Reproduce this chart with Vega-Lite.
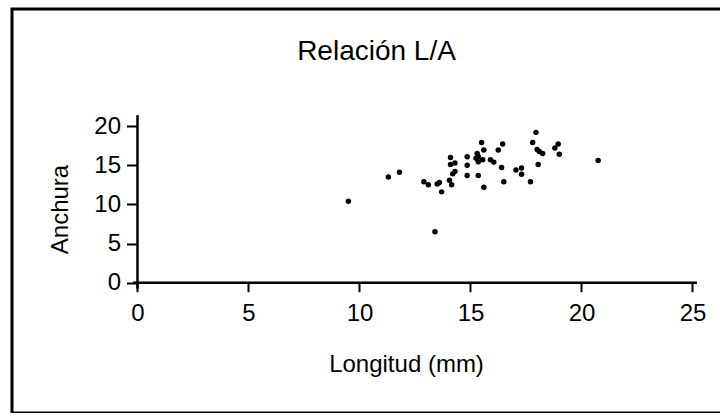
{
  "$schema": "https://vega.github.io/schema/vega-lite/v6.json",
  "width": 713,
  "height": 404,
  "autosize": {"type": "none"},
  "padding": {"left": 12, "top": 9, "right": 0, "bottom": 0},
  "background": "white",
  "config": {
    "view": {"stroke": "black", "strokeWidth": 3, "fill": null},
    "font": "Liberation Sans"
  },
  "title": {
    "text": "Relación L/A",
    "font": "Liberation Sans",
    "fontSize": 28,
    "fontWeight": "normal",
    "color": "black",
    "offset": -79,
    "baseline": "alphabetic",
    "dx": 8
  },
  "datasets": {
    "pts": [
      {"longitud": 9.5, "anchura": 10.4},
      {"longitud": 11.3, "anchura": 13.5},
      {"longitud": 11.8, "anchura": 14.1},
      {"longitud": 12.9, "anchura": 12.9},
      {"longitud": 13.1, "anchura": 12.5},
      {"longitud": 13.5, "anchura": 12.6},
      {"longitud": 13.6, "anchura": 12.8},
      {"longitud": 13.7, "anchura": 11.6},
      {"longitud": 13.4, "anchura": 6.5},
      {"longitud": 14.1, "anchura": 16.0},
      {"longitud": 14.1, "anchura": 15.1},
      {"longitud": 14.3, "anchura": 15.3},
      {"longitud": 14.3, "anchura": 14.2},
      {"longitud": 14.2, "anchura": 13.9},
      {"longitud": 14.05, "anchura": 13.1},
      {"longitud": 14.15, "anchura": 12.5},
      {"longitud": 14.85, "anchura": 16.1},
      {"longitud": 14.85, "anchura": 15.0},
      {"longitud": 14.85, "anchura": 13.7},
      {"longitud": 15.25, "anchura": 15.9},
      {"longitud": 15.35, "anchura": 13.7},
      {"longitud": 15.5, "anchura": 17.9},
      {"longitud": 15.6, "anchura": 16.95},
      {"longitud": 15.3, "anchura": 16.5},
      {"longitud": 15.35, "anchura": 16.1},
      {"longitud": 15.35, "anchura": 15.45},
      {"longitud": 15.55, "anchura": 15.7},
      {"longitud": 15.9, "anchura": 15.7},
      {"longitud": 16.05, "anchura": 15.4},
      {"longitud": 16.45, "anchura": 17.7},
      {"longitud": 16.25, "anchura": 16.95},
      {"longitud": 16.4, "anchura": 14.7},
      {"longitud": 15.6, "anchura": 12.2},
      {"longitud": 16.5, "anchura": 12.9},
      {"longitud": 17.05, "anchura": 14.4},
      {"longitud": 17.3, "anchura": 14.65},
      {"longitud": 17.3, "anchura": 13.85},
      {"longitud": 17.7, "anchura": 12.9},
      {"longitud": 17.95, "anchura": 19.2},
      {"longitud": 17.8, "anchura": 17.9},
      {"longitud": 18.0, "anchura": 17.0},
      {"longitud": 18.25, "anchura": 16.5},
      {"longitud": 18.1, "anchura": 16.75},
      {"longitud": 18.05, "anchura": 15.1},
      {"longitud": 18.95, "anchura": 17.7},
      {"longitud": 18.8, "anchura": 17.2},
      {"longitud": 19.0, "anchura": 16.4},
      {"longitud": 20.75, "anchura": 15.6}
    ],
    "ejes": [
      {"x": -0.2, "x2": 25.2, "y": 0, "y2": 0},
      {"x": 0, "x2": 0, "y": -0.8, "y2": 21.4}
    ]
  },
  "layer": [
    {
      "data": {"name": "ejes"},
      "mark": {"type": "rule", "color": "black", "strokeWidth": 2.5},
      "encoding": {
        "x": {
          "field": "x", "type": "quantitative",
          "scale": {"domain": [-5.653, 26.464], "nice": false, "zero": false},
          "axis": {
            "title": "Longitud (mm)",
            "values": [0, 5, 10, 15, 20, 25],
            "offset": -130.3,
            "domain": false,
            "grid": false,
            "tickColor": "black", "tickWidth": 2, "tickSize": 9,
            "labelFont": "Liberation Sans", "labelFontSize": 24, "labelColor": "black", "labelPadding": 10,
            "titleFont": "Liberation Sans", "titleFontSize": 24, "titleFontWeight": "normal", "titleColor": "black",
            "titleX": 394, "titleY": 89, "titleAlign": "center", "titleBaseline": "alphabetic"
          }
        },
        "x2": {"field": "x2"},
        "y": {
          "field": "y", "type": "quantitative",
          "scale": {"domain": [-16.64, 34.955], "nice": false, "zero": false},
          "axis": {
            "title": "Anchura",
            "values": [0, 5, 10, 15, 20],
            "offset": -125.5,
            "domain": false,
            "grid": false,
            "tickColor": "black", "tickWidth": 2, "tickSize": 11,
            "labelFont": "Liberation Sans", "labelFontSize": 24, "labelColor": "black", "labelPadding": 6,
            "titleFont": "Liberation Sans", "titleFontSize": 24, "titleFontWeight": "normal", "titleColor": "black",
            "titleX": -70.5, "titleY": 200, "titleAlign": "center", "titleBaseline": "alphabetic", "titleAngle": -90
          }
        },
        "y2": {"field": "y2"}
      }
    },
    {
      "data": {"name": "pts"},
      "mark": {"type": "circle", "color": "black", "opacity": 1, "size": 30},
      "encoding": {
        "x": {"field": "longitud", "type": "quantitative"},
        "y": {"field": "anchura", "type": "quantitative"}
      }
    }
  ]
}
